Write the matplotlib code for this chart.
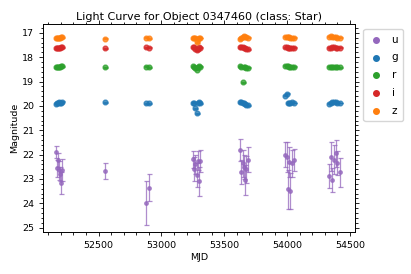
# plot.py
# Light curve of one object: magnitude per band against MJD.

import matplotlib
matplotlib.use('Agg')
import matplotlib.pyplot as plt
from matplotlib.ticker import MultipleLocator

title = 'Light Curve for Object 0347460 (class: Star)'
bands = ['u', 'g', 'r', 'i', 'z']
band_colors = ['#9467bd', '#1f77b4', '#2ca02c', '#d62728', '#ff7f0e']

mjd = [
    52165, 52172, 52178, 52184, 52190, 52198, 52210,
    52552,
    52878, 52905,
    53255, 53262, 53270, 53280, 53290, 53300, 53310,
    53625, 53635, 53645, 53655, 53665, 53675, 53688,
    53985, 53995, 54005, 54015, 54025, 54038, 54052,
    54335, 54345, 54360, 54370, 54385, 54400, 54418,
]

mag_u = [
    21.90, 22.56, 22.22, 22.65, 22.79, 23.15, 22.64,
    22.67,
    24.00, 23.35,
    22.19, 22.60, 22.40, 22.83, 22.25, 23.10, 22.25,
    21.80, 22.70, 22.35, 22.50, 23.04, 22.60, 22.20,
    22.00, 22.10, 23.42, 22.30, 23.50, 22.35, 22.22,
    22.87, 22.08, 23.04, 22.20, 21.95, 22.35, 22.73,
]
err_u = [
    0.25, 0.35, 0.30, 0.40, 0.30, 0.45, 0.45,
    0.33,
    0.90, 0.55,
    0.35, 0.50, 0.40, 0.50, 0.40, 0.60, 0.45,
    0.45, 0.50, 0.55, 0.50, 0.60, 0.55, 0.50,
    0.50, 0.60, 0.80, 0.60, 0.75, 0.55, 0.45,
    0.50, 0.60, 0.50, 0.60, 0.55, 0.50, 0.60,
]

mag_g = [
    19.92, 19.88, 19.90, 19.85, 19.88, 19.87, 19.83,
    19.85,
    19.90, 19.90,
    19.87, 19.88, 20.10, 20.30, 19.87, 19.85, 19.90,
    19.85, 19.83, 19.88, 19.90, 19.93, 19.95, 19.97,
    19.58, 19.50, 19.88, 19.90, 19.87, 19.85, 19.88,
    19.92, 19.88, 19.85, 19.83, 19.85, 19.87, 19.88,
]

mag_r = [
    18.42, 18.42, 18.40, 18.40, 18.40, 18.38, 18.37,
    18.41,
    18.40, 18.42,
    18.38, 18.40, 18.45, 18.52, 18.42, 18.38, 18.40,
    18.38, 18.40, 19.02, 18.40, 18.42, 18.43, 18.43,
    18.35, 18.37, 18.38, 18.40, 18.40, 18.41, 18.40,
    18.40, 18.40, 18.41, 18.40, 18.40, 18.41, 18.41,
]

mag_i = [
    17.63, 17.62, 17.62, 17.62, 17.61, 17.60, 17.60,
    17.63,
    17.60, 17.62,
    17.60, 17.60, 17.66, 17.72, 17.65, 17.60, 17.62,
    17.60, 17.60, 17.60, 17.62, 17.63, 17.65, 17.67,
    17.60, 17.60, 17.61, 17.62, 17.62, 17.61, 17.61,
    17.62, 17.62, 17.60, 17.60, 17.61, 17.61, 17.62,
]

mag_z = [
    17.22, 17.20, 17.20, 17.20, 17.19, 17.18, 17.18,
    17.25,
    17.20, 17.22,
    17.22, 17.20, 17.20, 17.38, 17.25, 17.20, 17.21,
    17.24, 17.20, 17.15, 17.14, 17.16, 17.18, 17.20,
    17.15, 17.18, 17.17, 17.18, 17.20, 17.19, 17.20,
    17.15, 17.14, 17.16, 17.18, 17.18, 17.20, 17.20,
]

mags = [mag_u, mag_g, mag_r, mag_i, mag_z]
small_err = [0.02] * len(mjd)
errs = [err_u, small_err, small_err, small_err, small_err]
marker_sizes = [2.5, 3.4, 3.4, 3.4, 3.4]

fig = plt.figure(figsize=(4.11, 2.74), dpi=100)
axis = fig.add_axes([0.105, 0.153, 0.759, 0.759])

for band, color, mag, err, size in zip(bands, band_colors, mags, errs, marker_sizes):
    axis.errorbar(mjd, mag, yerr=err, fmt='o', color=color, markersize=size,
                  elinewidth=0.9, capsize=1.8, capthick=0.9, alpha=0.75)
    axis.scatter([], [], color=color, s=16, label=band)

axis.set_xlim(52060, 54540)
axis.set_ylim(25.18, 16.64)
axis.xaxis.set_major_locator(MultipleLocator(500))
axis.xaxis.set_minor_locator(MultipleLocator(100))
axis.yaxis.set_major_locator(MultipleLocator(1))
axis.yaxis.set_minor_locator(MultipleLocator(0.2))
axis.tick_params(which='both', top=True, right=True, labelsize=6.8,
                 width=0.6)
axis.tick_params(which='major', length=3)
axis.tick_params(which='minor', length=1.8)
for spine in axis.spines.values():
    spine.set_linewidth(0.7)

axis.set_title(title, fontsize=8, pad=3)
axis.set_xlabel('MJD', fontsize=6.8, labelpad=2)
axis.set_ylabel('Magnitude', fontsize=6.8, labelpad=2)
axis.legend(loc='upper left', bbox_to_anchor=(1.01, 1.0), fontsize=7.5,
            labelspacing=0.75, handlelength=1.4, handletextpad=0.8,
            borderpad=0.5)

plt.savefig('out.png', dpi=100)
plt.close()
